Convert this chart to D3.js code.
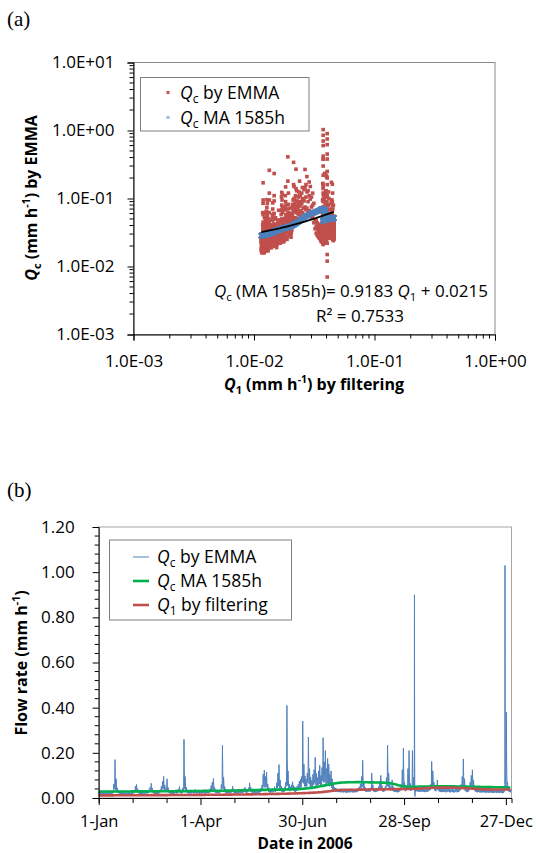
<!DOCTYPE html>
<html><head><meta charset="utf-8">
<script src="https://cdn.jsdelivr.net/npm/d3@7"></script>
<style>
html,body{margin:0;padding:0;background:#fff;}
svg{display:block;}
</style></head><body>
<svg id="c" width="536" height="853"></svg>
<script>
// ---------------- DATA ----------------
// Qc by EMMA (mm/h), day 0 = 1 Jan 2006: daily maximum, mean and minimum.
// null = storm day, given hourly in stormHourly.
const qcMax = [
0.028,0.026,0.025,0.027,0.024,0.026,0.029,0.025,0.023,0.026,
0.027,0.024,0.030,0.062,0.170,0.085,0.045,0.034,0.029,0.026,
0.025,0.023,0.026,0.024,0.022,0.025,0.027,0.024,0.023,0.026,
0.028,0.035,0.052,0.060,0.041,0.033,0.030,0.027,0.025,0.028,
0.026,0.030,0.034,0.029,0.037,0.048,0.065,0.044,0.034,0.030,
0.028,0.026,0.031,0.029,0.038,0.052,0.074,0.096,0.058,0.041,
0.085,0.046,0.034,0.030,0.028,0.031,0.027,0.030,0.036,0.029,
0.040,0.050,0.035,0.031,0.045,0.260,0.095,0.048,0.036,0.031,
0.029,0.033,0.030,0.035,0.032,0.038,0.034,0.031,0.036,0.030,
0.034,0.031,0.037,0.033,0.029,0.032,0.036,0.034,0.041,0.055,
0.070,0.086,0.048,0.037,0.033,0.035,0.031,0.034,0.060,0.233,
0.092,0.050,0.038,0.034,0.032,0.036,0.033,0.038,0.052,0.040,
0.035,0.031,0.034,0.030,0.036,0.033,0.038,0.035,0.042,0.047,
0.038,0.036,0.045,0.067,0.048,0.040,0.036,0.039,0.034,0.037,
0.035,0.040,0.038,0.044,0.058,0.105,0.123,0.095,0.115,0.062,
0.046,0.040,0.036,0.044,0.038,0.050,0.042,0.068,0.110,0.148,
0.080,0.052,0.044,0.040,0.048,0.070,0.410,0.120,0.062,0.050,
0.058,0.072,0.055,0.048,0.045,0.052,0.060,0.075,0.082,0.095,
0.340,0.150,0.098,0.085,0.110,0.270,0.130,0.092,0.078,0.105,
0.125,0.180,0.110,0.090,0.120,0.145,0.100,0.135,0.267,0.160,
0.210,0.130,0.175,0.150,0.105,0.120,0.085,0.060,0.048,0.044,
0.042,0.040,0.038,0.041,0.037,0.039,0.036,0.040,0.038,0.035,
0.037,0.039,0.036,0.041,0.038,0.036,0.040,0.037,0.039,0.044,
0.050,0.062,0.095,0.167,0.075,0.048,0.042,0.040,0.043,0.041,
0.045,0.110,0.058,0.044,0.041,0.039,0.042,0.050,0.075,0.100,
0.055,0.043,0.040,0.052,0.090,0.234,0.110,0.060,0.048,0.080,
0.050,0.042,0.039,0.041,0.038,0.040,0.045,0.060,0.125,0.220,
0.070,0.045,0.055,0.130,0.210,0.065,0.048,0.210,0.090,null,
0.040,0.046,0.043,0.039,0.042,0.040,0.044,0.041,0.038,0.042,
0.040,0.043,0.048,0.060,0.162,0.120,0.070,0.050,0.045,0.080,
0.052,0.044,0.041,0.039,0.043,0.040,0.042,0.038,0.041,0.044,
0.040,0.037,0.042,0.039,0.036,0.040,0.043,0.038,0.041,0.048,
0.060,0.095,0.173,0.085,0.050,0.043,0.040,0.045,0.070,0.100,
0.125,0.080,0.052,0.044,0.040,0.038,0.041,0.037,0.039,0.036,
0.040,0.038,0.035,0.039,0.037,0.034,0.038,0.036,0.033,0.037,
0.035,0.038,0.034,0.036,0.033,0.037,0.035,0.032,0.036,null,
0.380,0.070,0.045,0.040,0.038
];
const qcMean = [
0.024,0.023,0.022,0.023,0.021,0.022,0.024,0.022,0.020,0.022,
0.023,0.021,0.025,0.041,0.095,0.058,0.036,0.028,0.024,0.022,
0.021,0.020,0.022,0.021,0.019,0.021,0.023,0.021,0.020,0.022,
0.023,0.028,0.038,0.043,0.033,0.027,0.025,0.023,0.021,0.023,
0.022,0.025,0.028,0.024,0.030,0.037,0.047,0.035,0.028,0.025,
0.023,0.022,0.025,0.024,0.030,0.039,0.052,0.063,0.044,0.033,
0.055,0.036,0.028,0.025,0.023,0.025,0.022,0.025,0.029,0.024,
0.031,0.037,0.029,0.026,0.033,0.120,0.062,0.037,0.029,0.026,
0.024,0.027,0.025,0.028,0.026,0.030,0.027,0.026,0.029,0.025,
0.028,0.026,0.030,0.027,0.024,0.026,0.029,0.028,0.033,0.041,
0.050,0.058,0.038,0.030,0.027,0.028,0.025,0.028,0.042,0.110,
0.060,0.039,0.031,0.028,0.026,0.029,0.027,0.030,0.039,0.032,
0.029,0.026,0.028,0.025,0.029,0.027,0.031,0.029,0.034,0.037,
0.031,0.030,0.035,0.048,0.038,0.033,0.030,0.032,0.028,0.030,
0.029,0.032,0.031,0.035,0.043,0.068,0.080,0.066,0.075,0.047,
0.037,0.033,0.030,0.035,0.031,0.039,0.034,0.049,0.072,0.090,
0.058,0.041,0.035,0.033,0.038,0.051,0.180,0.082,0.048,0.040,
0.045,0.053,0.043,0.038,0.036,0.041,0.046,0.056,0.060,0.068,
0.160,0.100,0.072,0.064,0.078,0.140,0.090,0.068,0.060,0.075,
0.088,0.110,0.078,0.066,0.084,0.098,0.072,0.092,0.145,0.105,
0.125,0.090,0.110,0.098,0.075,0.080,0.062,0.047,0.039,0.036,
0.035,0.033,0.032,0.034,0.031,0.032,0.030,0.033,0.031,0.029,
0.031,0.032,0.030,0.034,0.031,0.030,0.033,0.031,0.032,0.036,
0.040,0.048,0.065,0.095,0.055,0.039,0.035,0.033,0.035,0.034,
0.037,0.070,0.046,0.036,0.034,0.032,0.035,0.040,0.055,0.068,
0.044,0.036,0.033,0.041,0.062,0.120,0.072,0.046,0.039,0.055,
0.040,0.035,0.032,0.034,0.031,0.033,0.037,0.046,0.078,0.115,
0.052,0.037,0.044,0.080,0.110,0.050,0.039,0.105,0.062,null,
0.034,0.038,0.036,0.033,0.035,0.033,0.036,0.034,0.032,0.035,
0.033,0.035,0.039,0.046,0.090,0.078,0.052,0.041,0.037,0.055,
0.042,0.036,0.034,0.032,0.035,0.033,0.034,0.031,0.034,0.036,
0.033,0.031,0.035,0.032,0.030,0.033,0.035,0.031,0.034,0.039,
0.046,0.065,0.095,0.060,0.040,0.035,0.033,0.037,0.052,0.068,
0.080,0.058,0.042,0.036,0.033,0.031,0.034,0.030,0.032,0.030,
0.033,0.031,0.029,0.032,0.030,0.028,0.031,0.030,0.027,0.030,
0.029,0.031,0.028,0.030,0.027,0.030,0.029,0.026,0.029,null,
0.150,0.052,0.037,0.033,0.031
];
const qcLow = [
0.019,0.018,0.017,0.019,0.016,0.018,0.020,0.017,0.016,0.018,
0.018,0.017,0.019,0.024,0.040,0.035,0.027,0.022,0.019,0.018,
0.017,0.016,0.018,0.017,0.016,0.017,0.018,0.017,0.016,0.018,
0.018,0.021,0.026,0.030,0.025,0.021,0.019,0.018,0.017,0.018,
0.018,0.019,0.021,0.019,0.022,0.027,0.032,0.027,0.022,0.019,
0.018,0.017,0.019,0.019,0.022,0.028,0.036,0.040,0.032,0.026,
0.033,0.027,0.022,0.020,0.018,0.019,0.017,0.019,0.022,0.019,
0.022,0.027,0.022,0.020,0.023,0.045,0.040,0.029,0.023,0.020,
0.019,0.021,0.020,0.022,0.020,0.023,0.021,0.020,0.022,0.019,
0.021,0.020,0.022,0.021,0.019,0.020,0.022,0.021,0.024,0.029,
0.034,0.036,0.029,0.023,0.021,0.022,0.020,0.021,0.028,0.042,
0.040,0.030,0.024,0.022,0.020,0.022,0.021,0.023,0.028,0.025,
0.022,0.020,0.021,0.019,0.022,0.021,0.023,0.022,0.025,0.027,
0.024,0.023,0.026,0.033,0.029,0.025,0.023,0.024,0.022,0.023,
0.022,0.024,0.023,0.026,0.030,0.041,0.050,0.046,0.049,0.035,
0.028,0.025,0.023,0.026,0.024,0.029,0.026,0.034,0.045,0.052,
0.040,0.032,0.027,0.025,0.028,0.035,0.060,0.055,0.036,0.030,
0.034,0.038,0.032,0.029,0.027,0.031,0.034,0.040,0.043,0.048,
0.070,0.065,0.052,0.048,0.052,0.068,0.062,0.050,0.045,0.050,
0.058,0.065,0.055,0.048,0.055,0.062,0.050,0.058,0.075,0.068,
0.072,0.060,0.066,0.062,0.052,0.054,0.044,0.036,0.031,0.029,
0.028,0.027,0.026,0.027,0.025,0.026,0.024,0.026,0.025,0.023,
0.024,0.026,0.024,0.027,0.025,0.024,0.026,0.025,0.026,0.028,
0.031,0.035,0.042,0.050,0.040,0.031,0.028,0.027,0.028,0.027,
0.029,0.040,0.035,0.029,0.027,0.026,0.028,0.031,0.038,0.045,
0.035,0.029,0.027,0.032,0.040,0.052,0.048,0.036,0.031,0.038,
0.032,0.028,0.026,0.027,0.025,0.026,0.029,0.035,0.045,0.055,
0.040,0.030,0.034,0.045,0.055,0.040,0.031,0.048,0.044,null,
0.028,0.030,0.029,0.027,0.028,0.027,0.029,0.028,0.026,0.028,
0.027,0.028,0.031,0.035,0.045,0.050,0.040,0.033,0.030,0.038,
0.034,0.029,0.027,0.026,0.028,0.026,0.027,0.025,0.027,0.029,
0.026,0.025,0.028,0.026,0.024,0.026,0.028,0.025,0.027,0.030,
0.035,0.042,0.050,0.045,0.032,0.028,0.026,0.029,0.037,0.045,
0.050,0.042,0.034,0.029,0.026,0.025,0.027,0.024,0.025,0.024,
0.026,0.025,0.023,0.025,0.024,0.022,0.025,0.024,0.022,0.024,
0.023,0.025,0.022,0.024,0.022,0.024,0.023,0.021,0.023,null,
0.060,0.040,0.030,0.027,0.025
];
// Storm days with hourly Qc values (mm/h)
const stormDays = [279, 359];
const stormHourly = [
  [0.045,0.080,0.200,0.450,0.750,0.900,0.620,0.380,0.250,0.160,0.110,0.080,
   0.050,0.030,0.015,0.007,0.012,0.022,0.035,0.042,0.050,0.045,0.040,0.042],
  [0.036,0.040,0.060,0.140,0.380,0.700,1.030,0.850,0.600,0.420,0.300,0.220,
   0.160,0.120,0.090,0.070,0.060,0.055,0.050,0.048,0.046,0.045,0.050,0.060]
];
// Daily Q1 by filtering (mm/h)
const q1Daily = [
0.0115,0.0115,0.0115,0.0116,0.0116,0.0116,0.0116,0.0117,0.0117,0.0117,
0.0117,0.0118,0.0118,0.0118,0.0119,0.0119,0.0119,0.0119,0.0119,0.0120,
0.0120,0.0120,0.0120,0.0120,0.0121,0.0121,0.0121,0.0121,0.0121,0.0122,
0.0122,0.0122,0.0122,0.0123,0.0123,0.0123,0.0123,0.0124,0.0124,0.0124,
0.0124,0.0124,0.0125,0.0125,0.0125,0.0125,0.0126,0.0126,0.0126,0.0126,
0.0127,0.0127,0.0127,0.0127,0.0128,0.0128,0.0128,0.0128,0.0129,0.0129,
0.0129,0.0129,0.0130,0.0130,0.0130,0.0131,0.0131,0.0131,0.0131,0.0132,
0.0132,0.0132,0.0133,0.0133,0.0133,0.0134,0.0134,0.0134,0.0135,0.0135,
0.0135,0.0136,0.0136,0.0136,0.0137,0.0137,0.0137,0.0138,0.0138,0.0138,
0.0139,0.0139,0.0139,0.0140,0.0140,0.0141,0.0141,0.0141,0.0142,0.0142,
0.0143,0.0143,0.0143,0.0144,0.0144,0.0145,0.0145,0.0146,0.0146,0.0147,
0.0147,0.0148,0.0148,0.0149,0.0149,0.0150,0.0150,0.0151,0.0151,0.0152,
0.0152,0.0153,0.0153,0.0154,0.0155,0.0155,0.0156,0.0156,0.0157,0.0158,
0.0158,0.0159,0.0160,0.0160,0.0161,0.0162,0.0162,0.0163,0.0164,0.0165,
0.0165,0.0166,0.0167,0.0168,0.0168,0.0169,0.0170,0.0171,0.0172,0.0173,
0.0174,0.0175,0.0176,0.0177,0.0178,0.0179,0.0180,0.0181,0.0182,0.0183,
0.0184,0.0185,0.0186,0.0188,0.0189,0.0190,0.0191,0.0193,0.0194,0.0195,
0.0197,0.0198,0.0200,0.0201,0.0203,0.0204,0.0206,0.0208,0.0209,0.0211,
0.0213,0.0215,0.0217,0.0219,0.0221,0.0223,0.0226,0.0228,0.0231,0.0233,
0.0236,0.0239,0.0242,0.0245,0.0249,0.0252,0.0256,0.0260,0.0265,0.0270,
0.0275,0.0281,0.0287,0.0293,0.0300,0.0307,0.0314,0.0321,0.0328,0.0334,
0.0340,0.0345,0.0349,0.0353,0.0356,0.0358,0.0360,0.0361,0.0362,0.0363,
0.0363,0.0364,0.0364,0.0365,0.0366,0.0366,0.0367,0.0368,0.0368,0.0369,
0.0370,0.0370,0.0371,0.0372,0.0372,0.0373,0.0374,0.0374,0.0375,0.0376,
0.0376,0.0377,0.0378,0.0378,0.0379,0.0380,0.0380,0.0381,0.0382,0.0382,
0.0383,0.0384,0.0384,0.0385,0.0386,0.0386,0.0387,0.0388,0.0388,0.0389,
0.0390,0.0390,0.0391,0.0392,0.0392,0.0393,0.0394,0.0394,0.0395,0.0396,
0.0396,0.0397,0.0398,0.0398,0.0399,0.0400,0.0401,0.0402,0.0403,0.0405,
0.0408,0.0411,0.0414,0.0417,0.0420,0.0423,0.0426,0.0429,0.0432,0.0435,
0.0438,0.0440,0.0443,0.0445,0.0447,0.0449,0.0451,0.0453,0.0455,0.0456,
0.0457,0.0458,0.0459,0.0460,0.0460,0.0460,0.0460,0.0460,0.0460,0.0459,
0.0459,0.0458,0.0457,0.0456,0.0455,0.0454,0.0452,0.0450,0.0448,0.0446,
0.0445,0.0442,0.0439,0.0436,0.0433,0.0430,0.0427,0.0424,0.0421,0.0418,
0.0415,0.0412,0.0409,0.0406,0.0403,0.0400,0.0398,0.0396,0.0394,0.0392,
0.0390,0.0388,0.0386,0.0384,0.0383,0.0382,0.0381,0.0380,0.0379,0.0378,
0.0377,0.0377,0.0376,0.0376,0.0375,0.0375,0.0375,0.0375,0.0375,0.0375,
0.0375,0.0374,0.0374,0.0374,0.0374
];
// Daily Qc moving average 1585 h (mm/h)
const maDaily = [
0.0285,0.0285,0.0285,0.0286,0.0286,0.0286,0.0286,0.0287,0.0287,0.0287,
0.0287,0.0288,0.0288,0.0288,0.0288,0.0289,0.0289,0.0289,0.0289,0.0290,
0.0290,0.0290,0.0290,0.0290,0.0291,0.0291,0.0291,0.0291,0.0291,0.0292,
0.0292,0.0292,0.0292,0.0293,0.0293,0.0293,0.0293,0.0293,0.0294,0.0294,
0.0294,0.0294,0.0295,0.0295,0.0295,0.0295,0.0296,0.0296,0.0296,0.0296,
0.0297,0.0297,0.0297,0.0298,0.0298,0.0298,0.0299,0.0299,0.0299,0.0300,
0.0300,0.0300,0.0301,0.0301,0.0301,0.0302,0.0302,0.0302,0.0303,0.0303,
0.0303,0.0304,0.0304,0.0305,0.0305,0.0305,0.0306,0.0306,0.0307,0.0307,
0.0307,0.0308,0.0308,0.0309,0.0309,0.0310,0.0310,0.0311,0.0311,0.0312,
0.0312,0.0313,0.0313,0.0314,0.0314,0.0315,0.0315,0.0316,0.0317,0.0317,
0.0318,0.0318,0.0319,0.0320,0.0320,0.0321,0.0322,0.0322,0.0323,0.0324,
0.0324,0.0325,0.0326,0.0327,0.0327,0.0328,0.0329,0.0330,0.0331,0.0332,
0.0333,0.0334,0.0335,0.0336,0.0337,0.0338,0.0339,0.0340,0.0341,0.0342,
0.0343,0.0344,0.0345,0.0346,0.0347,0.0348,0.0349,0.0350,0.0351,0.0352,
0.0353,0.0354,0.0355,0.0356,0.0357,0.0358,0.0359,0.0360,0.0361,0.0362,
0.0363,0.0364,0.0365,0.0366,0.0367,0.0368,0.0369,0.0370,0.0371,0.0372,
0.0373,0.0374,0.0375,0.0376,0.0377,0.0378,0.0379,0.0381,0.0382,0.0384,
0.0385,0.0387,0.0389,0.0391,0.0393,0.0395,0.0397,0.0400,0.0403,0.0406,
0.0409,0.0413,0.0417,0.0421,0.0426,0.0431,0.0436,0.0442,0.0448,0.0455,
0.0462,0.0470,0.0478,0.0487,0.0496,0.0506,0.0516,0.0526,0.0537,0.0548,
0.0559,0.0570,0.0581,0.0592,0.0603,0.0613,0.0623,0.0632,0.0641,0.0649,
0.0656,0.0663,0.0669,0.0674,0.0679,0.0683,0.0686,0.0689,0.0691,0.0693,
0.0695,0.0696,0.0697,0.0698,0.0699,0.0700,0.0700,0.0701,0.0701,0.0701,
0.0701,0.0701,0.0700,0.0700,0.0699,0.0698,0.0697,0.0696,0.0695,0.0694,
0.0693,0.0692,0.0691,0.0690,0.0689,0.0688,0.0687,0.0686,0.0685,0.0684,
0.0683,0.0682,0.0680,0.0678,0.0675,0.0671,0.0666,0.0660,0.0652,0.0643,
0.0632,0.0620,0.0607,0.0593,0.0579,0.0565,0.0552,0.0540,0.0530,0.0521,
0.0514,0.0509,0.0505,0.0502,0.0500,0.0499,0.0498,0.0498,0.0498,0.0499,
0.0500,0.0501,0.0502,0.0503,0.0504,0.0505,0.0506,0.0507,0.0508,0.0509,
0.0510,0.0511,0.0512,0.0513,0.0514,0.0515,0.0516,0.0517,0.0518,0.0518,
0.0519,0.0519,0.0520,0.0520,0.0520,0.0520,0.0520,0.0520,0.0519,0.0519,
0.0518,0.0517,0.0516,0.0515,0.0514,0.0513,0.0512,0.0511,0.0510,0.0509,
0.0508,0.0507,0.0506,0.0505,0.0504,0.0503,0.0502,0.0501,0.0500,0.0499,
0.0498,0.0497,0.0496,0.0495,0.0494,0.0493,0.0492,0.0491,0.0490,0.0489,
0.0488,0.0487,0.0486,0.0485,0.0484,0.0483,0.0482,0.0481,0.0480,0.0479,
0.0478,0.0477,0.0476,0.0475,0.0474,0.0473,0.0472,0.0471,0.0470,0.0469,
0.0468,0.0467,0.0466,0.0465,0.0464
];
// Trendline printed on panel (a)
const trendSlope = 0.9183, trendIntercept = 0.0215, trendR2 = "0.7533";
// Tick values/labels
const aTickValues = [0.001, 0.01, 0.1, 1, 10];
const aYTickLabels = ["1.0E-03","1.0E-02","1.0E-01","1.0E+00","1.0E+01"];
const aXTickValues = [0.001, 0.01, 0.1, 1];
const aXTickLabels = ["1.0E-03","1.0E-02","1.0E-01","1.0E+00"];
const bYTickValues = [0, 0.2, 0.4, 0.6, 0.8, 1.0, 1.2];
const bXLabels = ["1-Jan","1-Apr","30-Jun","28-Sep","27-Dec"];
const bXTickStepDays = 30;

// ---------------- DRAWING ----------------
const FONT = "'Open Sans', sans-serif";
const RED = "#c0504d", BLUE = "#4f81bd", GREEN = "#00b050", FRAME = "#898989";
const svg = d3.select("#c").attr("font-family", FONT);
const start = new Date(2006, 0, 1);

function rich(sel, parts) {
  parts.forEach(p => {
    const t = sel.append("tspan").text(p.t);
    if (p.i) t.attr("font-style", "italic");
    if (p.dy) t.attr("dy", p.dy);
    if (p.fs) t.attr("font-size", p.fs);
  });
  return sel;
}

// combined time series: per day minimum, maximum, mean (storm days hourly)
const series = [];
qcMax.forEach((v, d) => {
  const day0 = d3.timeDay.offset(start, d);
  const si = stormDays.indexOf(d);
  if (si >= 0) {
    stormHourly[si].forEach((hv, h) => series.push({date: d3.timeHour.offset(day0, h), day: d, v: hv}));
  } else {
    series.push({date: d3.timeHour.offset(day0, 2), day: d, v: qcLow[d]});
    series.push({date: d3.timeHour.offset(day0, 10), day: d, v: v});
    series.push({date: d3.timeHour.offset(day0, 17), day: d, v: qcMean[d]});
  }
});

// panel labels
svg.append("text").attr("x", 7).attr("y", 26).attr("font-family", "'Liberation Serif', serif").attr("font-size", 21).text("(a)");
svg.append("text").attr("x", 7).attr("y", 497).attr("font-family", "'Liberation Serif', serif").attr("font-size", 21).text("(b)");

// ===== Panel (a) =====
const A = {l: 133.5, r: 495, t: 62.5, b: 334.5};
const xA = d3.scaleLog().domain([1e-3, 1]).range([A.l, A.r]);
const yA = d3.scaleLog().domain([1e-3, 10]).range([A.b, A.t]);
svg.append("defs").append("clipPath").attr("id", "clipA").append("rect")
  .attr("x", A.l).attr("y", A.t).attr("width", A.r - A.l).attr("height", A.b - A.t);
svg.append("rect").attr("x", A.l).attr("y", A.t).attr("width", A.r - A.l).attr("height", A.b - A.t)
  .attr("fill", "none").attr("stroke", FRAME).attr("stroke-width", 1);

const gA = svg.append("g").attr("clip-path", "url(#clipA)");
gA.append("g").selectAll("rect").data(series).join("rect")
  .attr("x", p => xA(q1Daily[p.day]) - 1.8).attr("y", p => yA(p.v) - 1.8)
  .attr("width", 3.6).attr("height", 3.6).attr("fill", RED);
gA.append("g").selectAll("path").data(maDaily).join("path")
  .attr("transform", (m, d) => `translate(${xA(q1Daily[d])},${yA(m)})`)
  .attr("d", "M-2.5,-2.5L2.5,2.5M-2.5,2.5L2.5,-2.5")
  .attr("stroke", BLUE).attr("stroke-width", 1.7).attr("fill", "none");
const q1Ext = d3.extent(q1Daily);
const trendX = d3.range(0, 21).map(i => q1Ext[0] * Math.pow(q1Ext[1] / q1Ext[0], i / 20));
gA.append("path").datum(trendX)
  .attr("d", d3.line().x(v => xA(v)).y(v => yA(trendSlope * v + trendIntercept)))
  .attr("stroke", "#000").attr("stroke-width", 1.8).attr("fill", "none");

// y axis (a)
const yAxA = svg.append("g").attr("transform", `translate(${A.l},0)`)
  .call(d3.axisLeft(yA).tickValues(aTickValues).tickFormat((d, i) => aYTickLabels[i]).tickSize(6).tickPadding(13));
yAxA.selectAll("text").attr("font-size", 17).attr("font-family", FONT).attr("fill", "#000");
svg.append("g").selectAll("line").data(yA.ticks().filter(v => aTickValues.indexOf(v) < 0)).join("line")
  .attr("x1", A.l - 4).attr("x2", A.l).attr("y1", v => yA(v)).attr("y2", v => yA(v)).attr("stroke", "#000");
// x axis (a)
const xAxA = svg.append("g").attr("transform", `translate(0,${A.b})`)
  .call(d3.axisBottom(xA).tickValues(aXTickValues).tickFormat((d, i) => aXTickLabels[i]).tickSize(6));
xAxA.selectAll("text").attr("font-size", 17).attr("font-family", FONT).attr("fill", "#000").attr("dy", null).attr("y", 32.5);
svg.append("g").selectAll("line").data(xA.ticks().filter(v => aXTickValues.indexOf(v) < 0)).join("line")
  .attr("y1", A.b).attr("y2", A.b + 4).attr("x1", v => xA(v)).attr("x2", v => xA(v)).attr("stroke", "#000");

// titles (a)
rich(svg.append("text").attr("transform", "translate(37,198) rotate(-90)").attr("text-anchor", "middle")
  .attr("font-size", 16).attr("font-weight", "bold"),
  [{t: "Q", i: 1}, {t: "c", dy: 4, fs: 11}, {t: " (mm h", dy: -4}, {t: "-1", dy: -7, fs: 10.5}, {t: ") by EMMA", dy: 7}]);
rich(svg.append("text").attr("x", 314).attr("y", 390).attr("text-anchor", "middle")
  .attr("font-size", 16).attr("font-weight", "bold"),
  [{t: "Q", i: 1}, {t: "1", dy: 4, fs: 11}, {t: " (mm h", dy: -4}, {t: "-1", dy: -7, fs: 10.5}, {t: ") by filtering", dy: 7}]);

// equation
rich(svg.append("text").attr("x", 488).attr("y", 297).attr("text-anchor", "end").attr("font-size", 17),
  [{t: "Q", i: 1}, {t: "c", dy: 4, fs: 11.5}, {t: " (MA 1585h)= " + trendSlope + " ", dy: -4},
   {t: "Q", i: 1}, {t: "1", dy: 4, fs: 11.5}, {t: " + " + trendIntercept, dy: -4}]);
svg.append("text").attr("x", 360).attr("y", 322).attr("text-anchor", "middle").attr("font-size", 17)
  .text("R² = " + trendR2);

// legend (a)
svg.append("rect").attr("x", 140.5).attr("y", 77.5).attr("width", 168.5).attr("height", 53.5)
  .attr("fill", "#fff").attr("stroke", "#7f7f7f");
svg.append("rect").attr("x", 166.5).attr("y", 91).attr("width", 3).attr("height", 3).attr("fill", RED);
svg.append("path").attr("d", "M166.5,116L169.5,119M166.5,119L169.5,116").attr("stroke", BLUE).attr("stroke-width", 0.9);
rich(svg.append("text").attr("x", 180).attr("y", 98.5).attr("font-size", 17.5),
  [{t: "Q", i: 1}, {t: "c", dy: 4, fs: 12}, {t: " by EMMA", dy: -4}]);
rich(svg.append("text").attr("x", 180).attr("y", 123.5).attr("font-size", 17.5),
  [{t: "Q", i: 1}, {t: "c", dy: 4, fs: 12}, {t: " MA 1585h", dy: -4}]);

// ===== Panel (b) =====
const B = {l: 98.7, r: 511.5, t: 527, b: 798};
const xB = d3.scaleTime().domain([start, new Date(2007, 0, 1)]).range([B.l, B.r]);
const yB = d3.scaleLinear().domain([0, 1.2]).range([B.b, B.t]);
svg.append("rect").attr("x", B.l).attr("y", B.t).attr("width", B.r - B.l).attr("height", B.b - B.t)
  .attr("fill", "none").attr("stroke", "#a6a6a6").attr("stroke-width", 1);

svg.append("path").datum(series)
  .attr("d", d3.line().x(p => xB(p.date)).y(p => yB(p.v)))
  .attr("stroke", BLUE).attr("stroke-width", 1).attr("fill", "none");
svg.append("path").datum(maDaily)
  .attr("d", d3.line().x((v, d) => xB(d3.timeDay.offset(start, d))).y(v => yB(v)))
  .attr("stroke", GREEN).attr("stroke-width", 2.6).attr("fill", "none");
svg.append("path").datum(q1Daily)
  .attr("d", d3.line().x((v, d) => xB(d3.timeDay.offset(start, d))).y(v => yB(v)))
  .attr("stroke", RED).attr("stroke-width", 2.6).attr("fill", "none");

// y axis (b)
const yAxB = svg.append("g").attr("transform", `translate(${B.l},0)`)
  .call(d3.axisLeft(yB).tickValues(bYTickValues).tickFormat(d3.format(".2f")).tickSize(6).tickPadding(18));
yAxB.selectAll("text").attr("font-size", 17).attr("font-family", FONT).attr("fill", "#000");
svg.append("g").selectAll("line").data(d3.range(0, 30).map(i => i * 0.04).filter((v, i) => i % 5 !== 0)).join("line")
  .attr("x1", B.l - 4).attr("x2", B.l).attr("y1", v => yB(v)).attr("y2", v => yB(v)).attr("stroke", "#000");
// x axis (b)
const bTicks = d3.range(0, 13).map(i => d3.timeDay.offset(start, i * bXTickStepDays));
const xAxB = svg.append("g").attr("transform", `translate(0,${B.b})`)
  .call(d3.axisBottom(xB).tickValues(bTicks).tickFormat((d, i) => i % 3 === 0 ? bXLabels[i / 3] : "")
    .tickSize(5));
xAxB.selectAll("text").attr("font-size", 16.5).attr("font-family", FONT).attr("fill", "#000").attr("dy", null).attr("y", 29);
xAxB.selectAll(".tick line").attr("y2", (d, i) => i % 3 === 0 ? 7 : 5);

// titles (b)
rich(svg.append("text").attr("transform", "translate(27,663) rotate(-90)").attr("text-anchor", "middle")
  .attr("font-size", 16).attr("font-weight", "bold"),
  [{t: "Flow rate (mm h"}, {t: "-1", dy: -7, fs: 10.5}, {t: ")", dy: 7}]);
svg.append("text").attr("x", 305).attr("y", 849).attr("text-anchor", "middle")
  .attr("font-size", 15.5).attr("font-weight", "bold").text("Date in 2006");

// legend (b)
svg.append("rect").attr("x", 109.5).attr("y", 540).attr("width", 182).attr("height", 80)
  .attr("fill", "#fff").attr("stroke", "#7f7f7f");
const legB = [
  {c: BLUE, w: 1, y: 557, p: [{t: "Q", i: 1}, {t: "c", dy: 4, fs: 12}, {t: " by EMMA", dy: -4}]},
  {c: GREEN, w: 2.6, y: 581, p: [{t: "Q", i: 1}, {t: "c", dy: 4, fs: 12}, {t: " MA 1585h", dy: -4}]},
  {c: RED, w: 2.6, y: 605, p: [{t: "Q", i: 1}, {t: "1", dy: 4, fs: 12}, {t: " by filtering", dy: -4}]}
];
legB.forEach(e => {
  svg.append("line").attr("x1", 133).attr("x2", 149).attr("y1", e.y).attr("y2", e.y)
    .attr("stroke", e.c).attr("stroke-width", e.w);
  rich(svg.append("text").attr("x", 157).attr("y", e.y + 6).attr("font-size", 17.5), e.p);
});
</script>
</body></html>
